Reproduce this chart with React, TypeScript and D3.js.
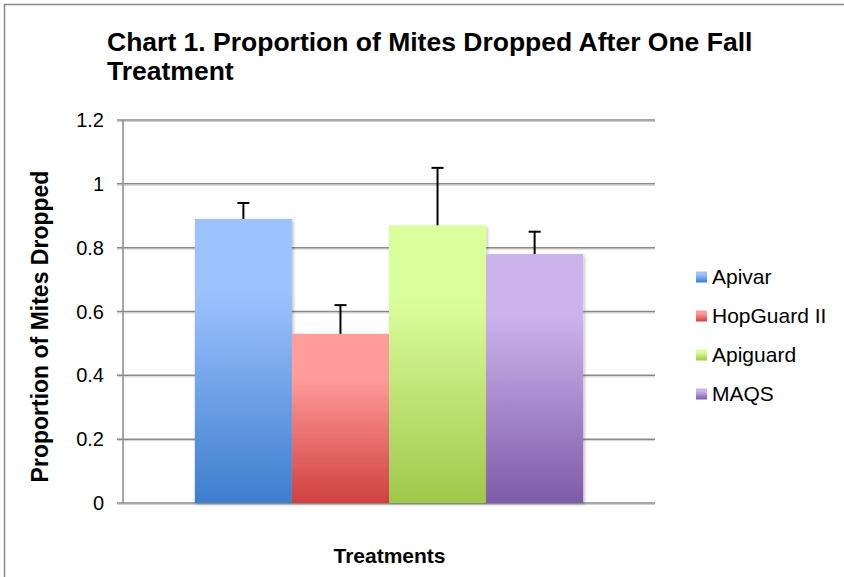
import React from "react";
import * as d3 from "d3";

const categories = ["Apivar", "HopGuard II", "Apiguard", "MAQS"];
const values = [0.89, 0.53, 0.87, 0.78];
const errors = [0.05, 0.09, 0.18, 0.07];
const yTicks = [0, 0.2, 0.4, 0.6, 0.8, 1, 1.2];
const tickLabels = ["0", "0.2", "0.4", "0.6", "0.8", "1", "1.2"];
const colorsTop = ["#9dc3ff", "#ff9d9b", "#dcff9e", "#cbb3ec"];
const colorsBottom = ["#3d7ecd", "#d0403f", "#a0c84a", "#7e5ba9"];

const W = 844;
const H = 577;
const plotLeft = 123;
const plotRight = 655;
const plotTop = 120;
const plotBottom = 503;
const font = "'Liberation Sans', Arial, sans-serif";

export default function App() {
  const x = d3
    .scaleBand<string>()
    .domain(categories)
    .range([plotLeft, plotRight])
    .paddingInner(0)
    .paddingOuter(0.74);
  const y = d3.scaleLinear().domain([0, 1.2]).range([plotBottom, plotTop]);
  const bw = x.bandwidth();

  return (
    <svg
      width={W}
      height={H}
      style={{ position: "fixed", left: 0, top: 0, background: "#fff" }}
      fontFamily={font}
    >
      <defs>
        {categories.map((c, i) => (
          <linearGradient key={c} id={`g${i}`} x1="0" y1="0" x2="0" y2="1">
            <stop offset="0" stopColor={colorsTop[i]} />
            <stop offset="0.25" stopColor={colorsTop[i]} />
            <stop offset="1" stopColor={colorsBottom[i]} />
          </linearGradient>
        ))}
        <filter id="sh" x="-10%" y="-10%" width="130%" height="120%">
          <feDropShadow dx="1.5" dy="1.5" stdDeviation="1.5" floodColor="#000" floodOpacity="0.25" />
        </filter>
      </defs>
      <rect x={4.5} y={4.5} width={W + 10} height={H + 10} fill="#fff" stroke="#8a8a8a" strokeWidth={1.5} />

      <text x={107} y={51} fontSize={26.5} fontWeight="bold" fill="#000">
        Chart 1. Proportion of Mites Dropped After One Fall
      </text>
      <text x={107} y={80} fontSize={26.5} fontWeight="bold" fill="#000">
        Treatment
      </text>

      {yTicks.map((t, i) => (
        <g key={t}>
          <line x1={plotLeft - 6} x2={plotRight} y1={y(t) + 1.5} y2={y(t) + 1.5} stroke="#d0d0d0" strokeWidth={1} />
          <line x1={plotLeft - 6} x2={plotRight} y1={y(t)} y2={y(t)} stroke="#8a8a8a" strokeWidth={1.5} />
          <text x={104} y={y(t) + 7} fontSize={20} textAnchor="end" fill="#000">
            {tickLabels[i]}
          </text>
        </g>
      ))}
      <line x1={plotLeft} x2={plotLeft} y1={plotTop} y2={plotBottom} stroke="#8a8a8a" strokeWidth={1.5} />

      {categories.map((c, i) => (
        <rect
          key={c}
          x={x(c)!}
          y={y(values[i])}
          width={bw}
          height={plotBottom - y(values[i])}
          fill={`url(#g${i})`}
          filter="url(#sh)"
        />
      ))}

      {categories.map((c, i) => {
        const cx = x(c)! + bw / 2;
        const top = y(values[i] + errors[i]);
        return (
          <g key={c} stroke="#000" strokeWidth={2}>
            <line x1={cx} x2={cx} y1={y(values[i])} y2={top} />
            <line x1={cx - 6} x2={cx + 6} y1={top} y2={top} />
          </g>
        );
      })}

      <text
        transform={`translate(48, ${(170 + 483) / 2}) rotate(-90)`}
        fontSize={23}
        fontWeight="bold"
        textAnchor="middle"
        fill="#000"
      >
        Proportion of Mites Dropped
      </text>
      <text x={389.5} y={563} fontSize={21} fontWeight="bold" textAnchor="middle" fill="#000">
        Treatments
      </text>

      {categories.map((c, i) => {
        const by = 283.5 + i * 39;
        return (
          <g key={c}>
            <rect x={696} y={by - 12} width={11} height={11} fill={`url(#g${i})`} />
            <text x={712} y={by} fontSize={21} fill="#000">
              {c}
            </text>
          </g>
        );
      })}
    </svg>
  );
}
